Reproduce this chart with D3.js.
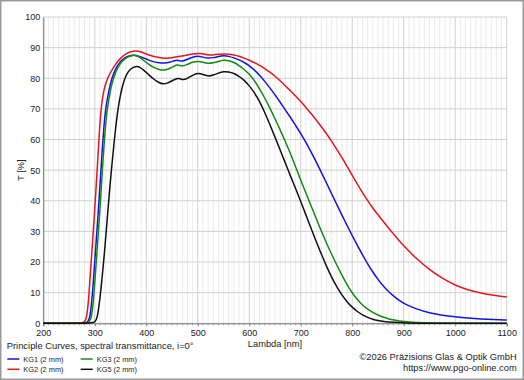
<!DOCTYPE html>
<html>
<head>
<meta charset="utf-8">
<script src="https://cdn.jsdelivr.net/npm/d3@7"></script>
<style>
  body { margin: 0; background: #fff; }
  svg { display: block; font-family: "Liberation Sans", Arial, sans-serif; }
</style>
</head>
<body>
<svg id="chart" width="524" height="380"></svg>
<script>
// tick values
const xTicks = [200, 300, 400, 500, 600, 700, 800, 900, 1000, 1100]
const yTicks = [0, 10, 20, 30, 40, 50, 60, 70, 80, 90, 100]

// [lambda nm, T %]
const kg1 = [[200,0],[280,0],[286,0.4],[290,1.5],[293,5],[297,13],[302,25],[307,37],[312,50],[315,58],[318,65],[321,70],[327,76],[333,80],[340,83],[347,85],[357,86.7],[367,87.4],[376,87.6],[385,87.3],[395,86.6],[405,85.9],[415,85.3],[425,85],[435,84.9],[445,85.2],[455,85.8],[460,86],[465,85.7],[470,85.5],[480,86.2],[490,86.9],[500,87.3],[510,86.9],[520,86.5],[530,86.7],[540,87.1],[550,87.4],[560,87.2],[570,86.7],[580,86],[590,85.2],[600,84.1],[610,82.7],[620,81],[630,79],[640,76.9],[650,74.6],[660,72.2],[670,69.7],[680,67.2],[690,64.6],[700,62],[710,59.1],[720,56],[730,52.7],[740,49.3],[750,45.8],[760,42.3],[770,38.8],[780,35.3],[790,31.9],[800,28.6],[810,25.4],[820,22.3],[830,19.4],[840,16.7],[850,14.3],[860,12.2],[870,10.4],[880,8.9],[890,7.6],[900,6.5],[925,4.6],[950,3.4],[975,2.6],[1000,2.1],[1025,1.7],[1050,1.4],[1075,1.2],[1100,1.1]]
const kg2 = [[200,0],[274,0],[279,0.3],[283,1.2],[286,4],[289,10],[293,20],[297,30],[301,40],[305,51],[308,60],[311,68],[315,74],[320,77.8],[325,80],[330,81.8],[340,84.6],[350,86.6],[360,88],[370,88.7],[380,89],[390,88.6],[400,87.9],[410,87.3],[420,86.9],[430,86.6],[440,86.5],[450,86.7],[460,87],[470,87.3],[480,87.6],[490,87.9],[500,88.2],[510,88],[520,87.6],[530,87.6],[540,87.8],[550,88],[560,87.9],[570,87.6],[580,87.2],[590,86.6],[600,85.9],[610,85.1],[620,84.2],[630,83.2],[640,82],[650,80.7],[660,79.2],[670,77.6],[680,75.9],[690,74.2],[700,72.4],[710,70.5],[720,68.5],[730,66.4],[740,64.2],[750,61.9],[760,59.4],[770,56.8],[780,54.1],[790,51.2],[800,48.3],[810,45.4],[820,42.6],[830,40],[840,37.6],[850,35.4],[860,33.3],[870,31.2],[880,29.2],[890,27.2],[900,25.3],[925,21],[950,17.5],[975,14.6],[1000,12.4],[1025,10.9],[1050,9.8],[1075,9.1],[1100,8.6]]
const kg3 = [[200,0],[284,0],[289,0.4],[293,1.5],[296,5],[300,13],[305,25],[310,37],[314,48],[317,56],[320,63],[324,70],[330,76],[336,80],[343,83],[350,85],[360,86.7],[370,87.3],[378,87.6],[385,87.1],[395,85.8],[405,84.5],[415,83.5],[425,82.8],[435,82.6],[445,83.1],[455,84.1],[460,84.4],[465,84.2],[470,83.9],[480,84.5],[490,85.3],[500,85.6],[510,85.2],[520,84.8],[530,85],[540,85.5],[550,86],[560,85.8],[570,85.2],[580,84.2],[590,82.9],[600,81.4],[610,79.3],[620,76.6],[630,73.6],[640,70.3],[650,66.8],[660,63.2],[670,59.4],[680,55.4],[690,51.1],[700,46.7],[710,42.5],[720,38.4],[730,34.2],[740,30.1],[750,26.2],[760,22.5],[770,19],[780,15.7],[790,12.6],[800,9.9],[810,7.7],[820,5.9],[830,4.6],[840,3.5],[850,2.7],[860,2],[870,1.5],[880,1.1],[900,0.5],[925,0.2],[950,0.1],[1000,0],[1100,0]]
const kg5 = [[200,0],[294,0],[299,0.3],[303,1],[306,3],[310,8],[314,14.5],[318,21.5],[322,29.5],[326,38],[330,46],[334,53],[338,60],[342,66],[346,71],[350,74.8],[355,78.3],[360,80.7],[365,82.2],[370,83.1],[375,83.6],[382,83.9],[388,83.6],[395,82.7],[405,81.1],[415,79.6],[425,78.5],[433,78.1],[440,78.3],[450,79.2],[460,80],[465,79.9],[472,79.4],[480,80],[490,81],[500,81.7],[510,81.3],[520,80.6],[530,81],[540,81.7],[550,82.2],[560,82.1],[570,81.6],[580,80.7],[590,79.4],[600,77.6],[610,75.3],[620,72.5],[630,68.9],[640,64.9],[650,60.8],[660,56.6],[670,52.4],[680,48.1],[690,44],[700,39.8],[710,35.4],[720,31],[730,26.7],[740,22.6],[750,18.6],[760,15],[770,11.9],[780,9.2],[790,7],[800,5.2],[810,3.8],[820,2.7],[830,1.9],[840,1.3],[850,0.9],[860,0.6],[880,0.3],[900,0.1],[950,0],[1100,0]]

const series = [
  { name: 'KG1 (2 mm)', color: '#1414e0', data: kg1, col: 0, row: 0 },
  { name: 'KG2 (2 mm)', color: '#e4171c', data: kg2, col: 0, row: 1 },
  { name: 'KG3 (2 mm)', color: '#128a12', data: kg3, col: 1, row: 0 },
  { name: 'KG5 (2 mm)', color: '#111111', data: kg5, col: 1, row: 1 }
]

const width = 524, height = 380
const plotLeft = 43.3, plotRight = 506.7, plotTop = 17, plotBottom = 323.3

const svg = d3.select('#chart')

svg.append('rect')
   .attr('x', 0.75).attr('y', 0.75)
   .attr('width', width - 1.5).attr('height', height - 1.5)
   .attr('fill', '#fff')
   .attr('stroke', '#9a9a9a')
   .attr('stroke-width', 1.5)

const xScale = d3.scaleLinear().domain([200, 1100]).range([plotLeft, plotRight])
const yScale = d3.scaleLinear().domain([0, 100]).range([plotBottom, plotTop])

const minorX = d3.range(210, 1100, 10).filter(v => v % 100 !== 0)

// minor vertical grid every 10 nm
svg.append('g')
   .selectAll('line')
   .data(minorX)
   .enter()
   .append('line')
   .attr('x1', d => xScale(d)).attr('x2', d => xScale(d))
   .attr('y1', plotTop).attr('y2', plotBottom)
   .attr('stroke', '#ececec')
   .attr('stroke-width', 1)

// major grid
svg.append('g')
   .selectAll('line')
   .data(xTicks)
   .enter()
   .append('line')
   .attr('x1', d => xScale(d)).attr('x2', d => xScale(d))
   .attr('y1', plotTop).attr('y2', plotBottom)
   .attr('stroke', '#d0d0d0')
   .attr('stroke-width', 1)

svg.append('g')
   .selectAll('line')
   .data(yTicks)
   .enter()
   .append('line')
   .attr('x1', plotLeft).attr('x2', plotRight)
   .attr('y1', d => yScale(d)).attr('y2', d => yScale(d))
   .attr('stroke', '#d0d0d0')
   .attr('stroke-width', 1)

// axes
const xAxis = d3.axisBottom(xScale).tickValues(xTicks).tickSize(3).tickPadding(3).tickFormat(d3.format('d'))
const yAxis = d3.axisLeft(yScale).tickValues(yTicks).tickSize(0).tickPadding(3).tickFormat(d3.format('d'))

const gx = svg.append('g')
   .attr('transform', 'translate(0,' + plotBottom + ')')
   .call(xAxis)
gx.select('.domain').attr('stroke', '#777')
gx.selectAll('.tick line').attr('stroke', '#777')
gx.selectAll('text').attr('font-size', 9).attr('fill', '#222').attr('font-family', 'Liberation Sans, Arial, sans-serif')

// minor ticks on x axis
svg.append('g')
   .selectAll('line')
   .data(minorX)
   .enter()
   .append('line')
   .attr('x1', d => xScale(d)).attr('x2', d => xScale(d))
   .attr('y1', plotBottom).attr('y2', plotBottom + 2)
   .attr('stroke', '#999')

const gy = svg.append('g')
   .attr('transform', 'translate(' + plotLeft + ',0)')
   .call(yAxis)
gy.select('.domain').attr('stroke', '#777')
gy.selectAll('text').attr('font-size', 9).attr('fill', '#222').attr('font-family', 'Liberation Sans, Arial, sans-serif')

// curves
const line = d3.line()
   .x(d => xScale(d[0]))
   .y(d => yScale(d[1]))
   .curve(d3.curveBasis)

svg.append('g')
   .selectAll('path')
   .data(series)
   .enter()
   .append('path')
   .attr('d', s => line(s.data))
   .attr('fill', 'none')
   .attr('stroke', s => s.color)
   .attr('stroke-width', 1.5)
   .attr('stroke-linejoin', 'round')

// axis titles
svg.append('text')
   .attr('x', (plotLeft + plotRight) / 2).attr('y', 346.5)
   .attr('text-anchor', 'middle')
   .attr('font-size', 9.3).attr('fill', '#222')
   .text('Lambda [nm]')

svg.append('text')
   .attr('transform', 'translate(23.5,' + ((plotTop + plotBottom) / 2) + ') rotate(-90)')
   .attr('text-anchor', 'middle')
   .attr('font-size', 9.3).attr('fill', '#222')
   .text('T [%]')

// legend
svg.append('text')
   .attr('x', 6.7).attr('y', 349)
   .attr('font-size', 9.4).attr('fill', '#222')
   .text('Principle Curves, spectral transmittance, i=0°')

const legend = svg.append('g')
   .selectAll('g')
   .data(series)
   .enter()
   .append('g')
   .attr('transform', s => 'translate(' + (7.3 + s.col * 73.4) + ',' + (359 + s.row * 10.3) + ')')

legend.append('line')
   .attr('x1', 0).attr('x2', 12)
   .attr('stroke', s => s.color)
   .attr('stroke-width', 1.5)

legend.append('text')
   .attr('x', 16).attr('y', 2.7)
   .attr('font-size', 7.4).attr('fill', '#222')
   .text(s => s.name)

// copyright
svg.append('text')
   .attr('x', 516.7).attr('y', 359.5)
   .attr('text-anchor', 'end')
   .attr('font-size', 9.3).attr('fill', '#222')
   .text('©2026 Präzisions Glas & Optik GmbH')

svg.append('text')
   .attr('x', 516.7).attr('y', 371)
   .attr('text-anchor', 'end')
   .attr('font-size', 9.3).attr('fill', '#222')
   .text('https://www.pgo-online.com')
</script>
</body>
</html>
